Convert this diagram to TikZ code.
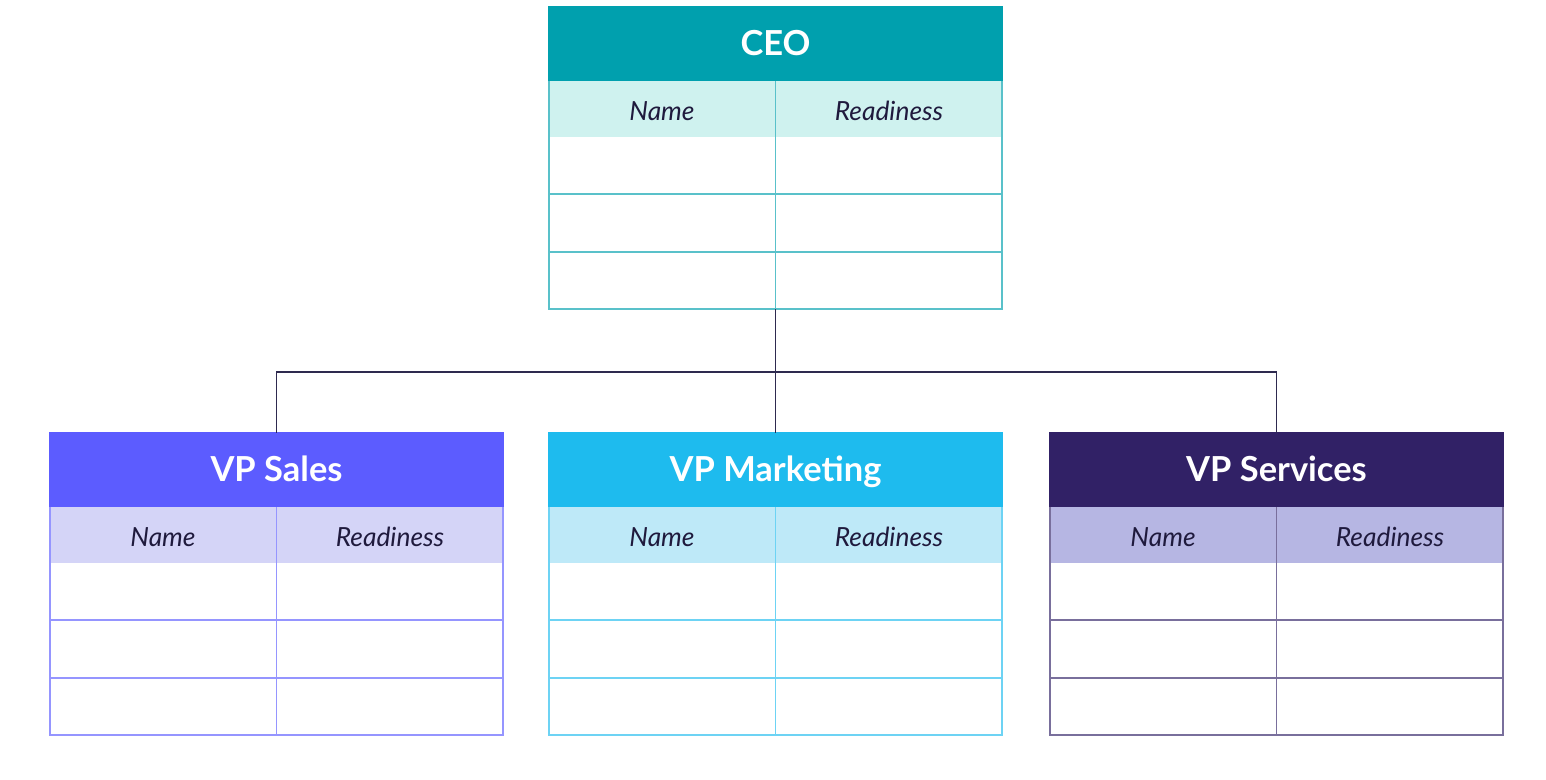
\documentclass[tikz,border=0pt]{standalone}
\usepackage{fontspec}
\setmainfont{Lato}

\definecolor{ceoDark}{HTML}{00A0AE}
\definecolor{ceoLight}{HTML}{CFF2EF}
\definecolor{salesDark}{HTML}{5C5CFF}
\definecolor{salesLight}{HTML}{D4D4F7}
\definecolor{mktDark}{HTML}{1EBBEE}
\definecolor{mktLight}{HTML}{BEE9F8}
\definecolor{servDark}{HTML}{312166}
\definecolor{servLight}{HTML}{B6B6E3}
\definecolor{inkNavy}{HTML}{1F1A3D}
\definecolor{linkNavy}{HTML}{2E2A4F}

\tikzset{
    headbox/.style={rectangle, inner sep=0pt, minimum width=4.53cm, minimum height=0.73cm,
        text height=1.4ex, text depth=0pt,
        text=white, font=\fontsize{9.8}{12}\selectfont\bfseries},
    subtext/.style={inner sep=1pt, text height=1.4ex, text depth=0pt,
        text=inkNavy, font=\fontsize{7.5}{9}\selectfont\itshape},
    link/.style={draw=linkNavy, line width=0.55pt},
}

% one role table: name, left x, top y, title, dark colour, light colour
\newcommand{\roletable}[6]{%
    \begin{scope}[shift={(#2,#3)}]
        \fill[#6] (0,73) rectangle (453,130);
        \draw[#5!65!white, line width=0.45pt]
            (0,73) rectangle (453,302)
            (0,187) -- ++(453,0)
            (0,245) -- ++(453,0)
            (226.5,73) -- ++(0,229)
        ;
        \node[headbox, fill=#5, draw=#5] (#1) at (226.5,36.5) {#4};
        \node[subtext] (#1-name) at (113,101.5) {Name};
        \node[subtext] (#1-ready) at (340,101.5) {Readiness};
        \coordinate (#1-top) at (226.5,0);
        \coordinate (#1-bot) at (226.5,302);
    \end{scope}}

\begin{document}
\begin{tikzpicture}[x=0.01cm,y=-0.01cm]
    \useasboundingbox[fill=white] (0,0) rectangle (1546,779);

    \roletable{ceo}{549}{7}{CEO}{ceoDark}{ceoLight}
    \roletable{sales}{50}{433}{VP Sales}{salesDark}{salesLight}
    \roletable{mkt}{549}{433}{VP Marketing}{mktDark}{mktLight}
    \roletable{serv}{1050}{433}{VP Services}{servDark}{servLight}

    \coordinate (split) at (775.5,372);
    \draw[link] (ceo-bot) -- (split);
    \draw[link] (split) -| (sales-top);
    \draw[link] (split) -| (serv-top);
    \draw[link] (split) -- (mkt-top);
\end{tikzpicture}
\end{document}
